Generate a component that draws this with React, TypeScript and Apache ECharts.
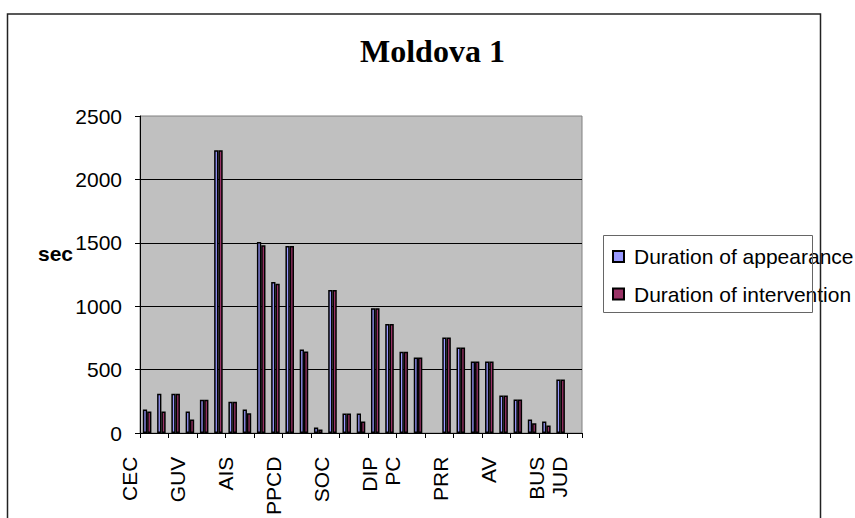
import React, { useEffect, useRef } from "react";
import * as echarts from "echarts";

// 31 bar groups (only some of them carry a visible label in the original)
const categories = [
  "1", "2", "3", "4", "5", "6", "7", "8", "9", "10", "11", "12", "13", "14", "15", "16",
  "17", "18", "19", "20", "21", "22", "23", "24", "25", "26", "27", "28", "29", "30", "31",
];

const appearance = [
  185, 310, 310, 169, 262, 2230, 247, 185, 1506, 1191, 1474, 658, 43, 1128, 153, 153,
  984, 860, 640, 595, null, 753, 674, 564, 564, 296, 265, 106, 91, 422, null,
];

const intervention = [
  169, 169, 310, 106, 262, 2230, 247, 155, 1480, 1178, 1474, 643, 27, 1128, 153, 91,
  984, 860, 640, 595, null, 753, 674, 564, 564, 296, 265, 77, 60, 422, null,
];

// tick labels as laid out under the axis (blank slots keep the spacing)
const tickLabels = [
  "CEC", "", "", "", "GUV", "", "", "", "AIS", "", "", "", "PPCD", "", "", "", "SOC", "", "", "", "",
  "DIP\nPC", "", "", "", "", "PRR", "", "", "", "AV", "", "", "", "", "BUS\nJUD",
];

const seriesNames = ["Duration of appearance", "Duration of intervention"];
const yTicks = { min: 0, max: 2500, interval: 500 };
const chartTitle = "Moldova 1";
const yAxisName = "sec";

const SANS = "'Liberation Sans', Arial, sans-serif";
const SERIF = "'Liberation Serif', 'Times New Roman', serif";

export default function App() {
  const ref = useRef<HTMLDivElement>(null);

  useEffect(() => {
    document.body.style.margin = "0";
    if (!ref.current) return;
    const chart = echarts.init(ref.current, null, { renderer: "svg" });
    const option: any = {
      animation: false,
      backgroundColor: "#ffffff",
      title: [
        {
          text: chartTitle,
          left: 360,
          top: 35,
          padding: 0,
          textStyle: { fontFamily: SERIF, fontWeight: "bold", fontSize: 32, color: "#000" },
        },
        {
          text: yAxisName,
          left: 38,
          top: 243,
          padding: 0,
          textStyle: { fontFamily: SANS, fontWeight: "bold", fontSize: 21, color: "#000" },
        },
      ],
      legend: {
        data: seriesNames,
        orient: "vertical",
        left: 603,
        top: 235,
        padding: [11, 0, 0, 9],
        itemWidth: 11,
        itemHeight: 11,
        itemGap: 16.5,
        icon: "rect",
        textStyle: { fontFamily: SANS, fontSize: 21, color: "#000", padding: [0, 0, 0, 5] },
      },
      grid: [
        {
          left: 140,
          right: 273,
          top: 116,
          bottom: 85,
          show: true,
          backgroundColor: "#c0c0c0",
          borderColor: "#808080",
          borderWidth: 1,
        },
        { left: 124, width: 430.2, top: 116, bottom: 85, show: false },
      ],
      xAxis: [
        {
          type: "category",
          gridIndex: 0,
          data: categories,
          axisLine: { lineStyle: { color: "#000", width: 1 } },
          axisTick: { show: true, length: 5, lineStyle: { color: "#000" } },
          axisLabel: { show: false },
          splitLine: { show: false },
        },
        {
          type: "category",
          gridIndex: 1,
          data: tickLabels,
          axisLine: { show: false },
          axisTick: { show: false },
          axisLabel: {
            interval: 0,
            rotate: 90,
            margin: 25,
            fontFamily: SANS,
            fontSize: 21,
            lineHeight: 23.5,
            color: "#000",
          },
        },
      ],
      yAxis: [
        {
          type: "value",
          gridIndex: 0,
          min: yTicks.min,
          max: yTicks.max,
          interval: yTicks.interval,
          axisLine: { show: true, lineStyle: { color: "#000", width: 1 } },
          axisTick: { show: true, length: 5, lineStyle: { color: "#000" } },
          axisLabel: {
            fontFamily: SANS,
            fontSize: 21,
            color: "#000",
            margin: 18,
            formatter: (v: number) => String(v),
          },
          splitLine: {
            show: true,
            showMinLine: false,
            showMaxLine: false,
            lineStyle: { color: "#000", width: 1 },
          },
        },
        { type: "value", gridIndex: 1, show: false, min: 0, max: 1 },
      ],
      series: [
        {
          name: seriesNames[0],
          type: "bar",
          xAxisIndex: 0,
          yAxisIndex: 0,
          data: appearance,
          barGap: "0%",
          barCategoryGap: "40%",
          itemStyle: { color: "#9999ff", borderColor: "#000", borderWidth: 1.5 },
        },
        {
          name: seriesNames[1],
          type: "bar",
          xAxisIndex: 0,
          yAxisIndex: 0,
          data: intervention,
          barGap: "0%",
          barCategoryGap: "40%",
          itemStyle: { color: "#993366", borderColor: "#000", borderWidth: 1.5 },
        },
        {
          name: "labels",
          type: "line",
          xAxisIndex: 1,
          yAxisIndex: 1,
          data: [],
          silent: true,
        },
      ],
      graphic: [
        {
          type: "rect",
          z: 50,
          silent: true,
          shape: { x: 603.5, y: 235.5, width: 209, height: 77 },
          style: { fill: "none", stroke: "#666", lineWidth: 1 },
        },
        {
          type: "rect",
          z: 100,
          silent: true,
          shape: { x: 7.5, y: 14, width: 813, height: 530 },
          style: { fill: "none", stroke: "#222", lineWidth: 1.5 },
        },
      ],
    };
    chart.setOption(option);
    return () => chart.dispose();
  }, []);

  return <div ref={ref} style={{ width: 855, height: 518 }} />;
}
